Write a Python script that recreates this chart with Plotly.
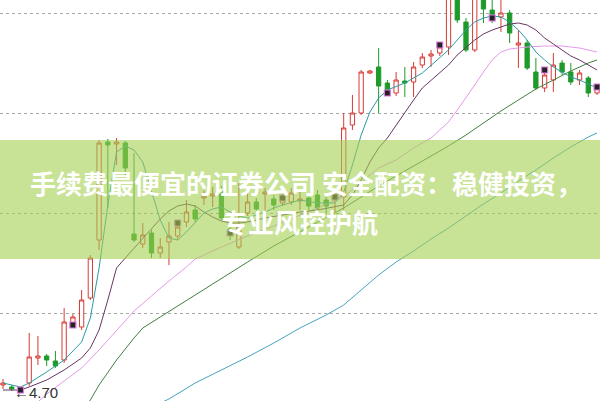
import plotly.graph_objects as go

# ---- candle data (index = trading day shown) ----
day = list(range(69))
open_ = [4.77, 4.75, 4.71, 4.79, 5.04, 5.06, 5.01, 5.02, 5.37, 5.35, 5.64, 6.22, 7.20, 7.18, 7.19, 6.28, 6.18, 6.29, 6.09, 6.20,
         6.26, 6.40, 6.52, 6.64, 6.66, 6.71, 6.33, 6.15, 6.49, 6.60, 6.68, 6.63, 6.59, 6.60, 6.61, 6.64, 6.67, 6.62, 6.62, 6.65,
         7.37, 7.49, 7.89, 7.95, 7.79, 7.69, 7.81, 7.80, 7.97, 8.06, 8.09, 8.15, 8.74, 8.40, 8.12, 8.67, 8.52, 8.45, 8.49, 8.17,
         8.19, 7.90, 7.74, 7.82, 7.99, 7.90, 7.82, 7.84, 7.69]
high = [4.83, 4.77, 4.75, 5.29, 5.26, 5.08, 5.11, 5.54, 5.48, 5.72, 6.07, 7.22, 7.23, 7.24, 7.21, 7.09, 6.39, 6.32, 6.24, 6.40,
        6.42, 6.62, 6.57, 6.72, 6.75, 6.76, 6.37, 6.79, 6.70, 6.64, 6.74, 6.67, 6.68, 6.74, 6.72, 6.69, 6.72, 6.66, 6.72, 7.49,
        7.67, 7.92, 7.92, 8.14, 7.82, 7.90, 7.95, 8.00, 8.09, 8.12, 8.19, 8.87, 8.80, 8.44, 8.74, 8.72, 8.62, 8.64, 8.52, 8.32,
        8.22, 8.04, 7.92, 8.09, 8.02, 7.99, 7.92, 7.86, 7.78]
low = [4.73, 4.71, 4.70, 4.76, 4.97, 4.96, 4.94, 4.99, 5.34, 5.32, 5.62, 6.12, 6.54, 6.97, 6.87, 6.20, 6.14, 6.04, 6.04, 5.97,
       6.22, 6.35, 6.40, 6.57, 6.55, 6.42, 6.22, 6.13, 6.46, 6.50, 6.50, 6.52, 6.56, 6.57, 6.52, 6.52, 6.50, 6.49, 6.50, 6.52,
       7.32, 7.47, 7.88, 7.49, 7.69, 7.66, 7.65, 7.65, 7.94, 7.95, 8.06, 8.07, 8.39, 8.10, 8.10, 8.39, 8.39, 8.30, 8.19, 7.94,
       7.92, 7.72, 7.70, 7.70, 7.87, 7.77, 7.77, 7.65, 7.67]
close = [4.79, 4.73, 4.73, 5.05, 5.06, 5.02, 4.96, 5.40, 5.45, 5.62, 6.04, 7.19, 7.17, 7.20, 6.94, 6.22, 6.27, 6.09, 6.15, 6.26,
         6.35, 6.50, 6.43, 6.66, 6.68, 6.44, 6.27, 6.35, 6.60, 6.53, 6.70, 6.57, 6.64, 6.69, 6.63, 6.56, 6.54, 6.56, 6.67, 7.34,
         7.49, 7.90, 7.91, 7.76, 7.72, 7.82, 7.79, 7.95, 8.05, 8.08, 8.15, 8.82, 8.42, 8.12, 8.70, 8.53, 8.46, 8.49, 8.29, 8.19,
         7.94, 7.74, 7.87, 7.97, 7.90, 7.80, 7.89, 7.69, 7.74]

# ---- moving average lines ----
ma5_day = [0, 2, 3, 5, 7, 9, 10, 11, 12, 13, 14, 15, 16, 17, 18, 19, 20, 21, 22, 23, 24, 25, 26, 27, 28, 29, 30, 31, 32,
           34, 36, 38, 39, 40, 41, 42, 43, 44, 46, 48, 50, 51, 52, 53, 54, 55, 56, 57, 58, 59, 60, 61, 62, 63, 64, 65, 66, 67, 68]
ma5 = [4.79, 4.75, 4.79, 4.90, 5.02, 5.20, 5.44, 5.94, 6.57, 7.10, 7.16, 7.12, 7.00, 6.72, 6.42, 6.24, 6.22, 6.30, 6.40,
       6.49, 6.53, 6.55, 6.50, 6.46, 6.44, 6.47, 6.50, 6.54, 6.57, 6.62, 6.59, 6.59, 6.70, 6.97, 7.27, 7.50, 7.64, 7.72,
       7.79, 7.89, 8.04, 8.12, 8.22, 8.32, 8.40, 8.44, 8.46, 8.45, 8.40, 8.32, 8.22, 8.10, 8.02, 7.95, 7.90, 7.85, 7.82, 7.78, 7.74]

ma10_day = [0, 2, 3, 5, 7, 9, 10] + list(range(11, 31)) + [32, 34, 36, 38] + list(range(39, 69))
ma10 = [4.72, 4.72, 4.75, 4.82, 4.92, 5.04, 5.14,
        5.32, 5.62, 5.94, 6.04, 6.14, 6.24, 6.34, 6.43, 6.51, 6.56, 6.58, 6.56, 6.50, 6.45, 6.41, 6.39, 6.39, 6.40, 6.42, 6.44,
        6.47, 6.50, 6.52, 6.55,
        6.57, 6.67, 6.82, 7.00, 7.14, 7.24, 7.37, 7.49, 7.62, 7.74, 7.82, 7.90, 7.97, 8.07, 8.15, 8.22, 8.28, 8.32, 8.35, 8.38,
        8.39, 8.37, 8.32, 8.24, 8.18, 8.12, 8.06, 8.02, 7.97, 7.92]

ma20_day = [4, 5, 7, 9, 11, 13, 15, 17, 19, 21, 22, 25, 28, 31, 34, 37, 39, 41, 43, 45, 47, 49, 51,
            52, 53, 54, 55, 56, 57, 58, 60, 62, 64, 66, 68]
ma20 = [4.60, 4.68, 4.81, 4.94, 5.12, 5.32, 5.51, 5.66, 5.81, 5.95, 6.03, 6.15, 6.26, 6.36, 6.47, 6.58, 6.65, 6.80, 6.94,
        7.02, 7.14, 7.24, 7.40, 7.52, 7.64, 7.77, 7.90, 8.02, 8.10, 8.13, 8.15, 8.16, 8.16, 8.14, 8.10]

ma30_day = [9, 10, 11, 13, 15, 16, 18, 20, 22, 25, 28, 31, 34, 37, 39, 41, 43, 45, 47, 49, 51, 53, 55, 57, 59, 61, 63, 65, 67, 68]
ma30 = [4.50, 4.62, 4.77, 5.02, 5.24, 5.34, 5.45, 5.56, 5.67, 5.84, 6.00, 6.16, 6.30, 6.44, 6.54, 6.65, 6.76, 6.86, 6.96,
        7.06, 7.16, 7.27, 7.39, 7.51, 7.62, 7.73, 7.82, 7.91, 7.99, 8.02]

ma60_day = [18, 19, 22, 25, 28, 31, 34, 37, 39, 41, 43, 45, 47, 49, 51, 53, 55, 57, 59, 61, 63, 65, 67, 68]
ma60 = [4.59, 4.63, 4.79, 4.92, 5.05, 5.19, 5.34, 5.47, 5.57, 5.72, 5.87, 6.00, 6.11, 6.23, 6.34, 6.46, 6.58, 6.69,
        6.81, 6.92, 7.04, 7.15, 7.25, 7.29]

# ---- info icons ----
icon_day = [2, 8, 20, 26, 32, 38, 44, 50, 56, 62, 68]
icon_price = [4.72, 5.37, 6.39, 6.29, 6.64, 6.65, 7.69, 8.17, 8.44, 7.92, 7.75]

grid_prices = [5.49, 6.49, 7.49, 8.49]
low_label = "←4.70"
banner_line1 = "手续费最便宜的证券公司 安全配资：稳健投资，"
banner_line2 = "专业风控护航"

RED = "#d83a34"
GREEN = "#1f9a2a"

fig = go.Figure()

for xs, ys, col in [(ma60_day, ma60, "#47a3bf"), (ma30_day, ma30, "#3f7f3f"), (ma20_day, ma20, "#e49ae8"),
                    (ma10_day, ma10, "#6a3563"), (ma5_day, ma5, "#2b9aa3")]:
    fig.add_trace(go.Scatter(x=xs, y=ys, mode="lines", line=dict(color=col, width=1), hoverinfo="skip"))

fig.add_trace(go.Candlestick(
    x=day, open=open_, high=high, low=low, close=close,
    increasing=dict(line=dict(color=RED, width=1), fillcolor="white"),
    decreasing=dict(line=dict(color=GREEN, width=1), fillcolor=GREEN),
    whiskerwidth=0,
))

fig.add_trace(go.Scatter(x=icon_day, y=icon_price, mode="markers",
                         marker=dict(symbol="square", size=6, color="#222222",
                                     line=dict(color="#e07ae0", width=1.2)),
                         hoverinfo="skip"))

fig.add_shape(type="rect", xref="paper", yref="paper", x0=0, x1=1, y0=0.354, y1=0.651,
              fillcolor="rgba(163,207,80,0.6)", line=dict(width=0), layer="above")

fig.add_annotation(xref="paper", yref="paper", x=0.51, y=0.544, text="<b>" + banner_line1 + "</b>",
                   showarrow=False, font=dict(family="Noto Sans CJK SC", size=26, color="white"))
fig.add_annotation(xref="paper", yref="paper", x=0.5, y=0.447, text="<b>" + banner_line2 + "</b>",
                   showarrow=False, font=dict(family="Noto Sans CJK SC", size=26, color="white"))
fig.add_annotation(xref="paper", yref="paper", x=12 / 600, y=0.022, xanchor="left", yanchor="middle",
                   text=low_label, showarrow=False,
                   font=dict(family="Liberation Sans, Arial", size=15, color="#333333"))

fig.update_layout(
    width=600, height=401, margin=dict(l=0, r=0, t=0, b=0),
    paper_bgcolor="white", plot_bgcolor="white", showlegend=False,
    xaxis=dict(range=[-0.343, 68.34], showgrid=False, zeroline=False, showticklabels=False,
               rangeslider=dict(visible=False), fixedrange=True),
    yaxis=dict(range=[4.61, 8.62], tickvals=grid_prices, showticklabels=False, showgrid=True,
               gridcolor="#a8a8a8", griddash="dot", gridwidth=1, zeroline=False, fixedrange=True),
)

fig.write_html("out.html", config={"displayModeBar": False},
               post_script="document.body.style.margin='0';document.body.style.overflow='hidden';")
